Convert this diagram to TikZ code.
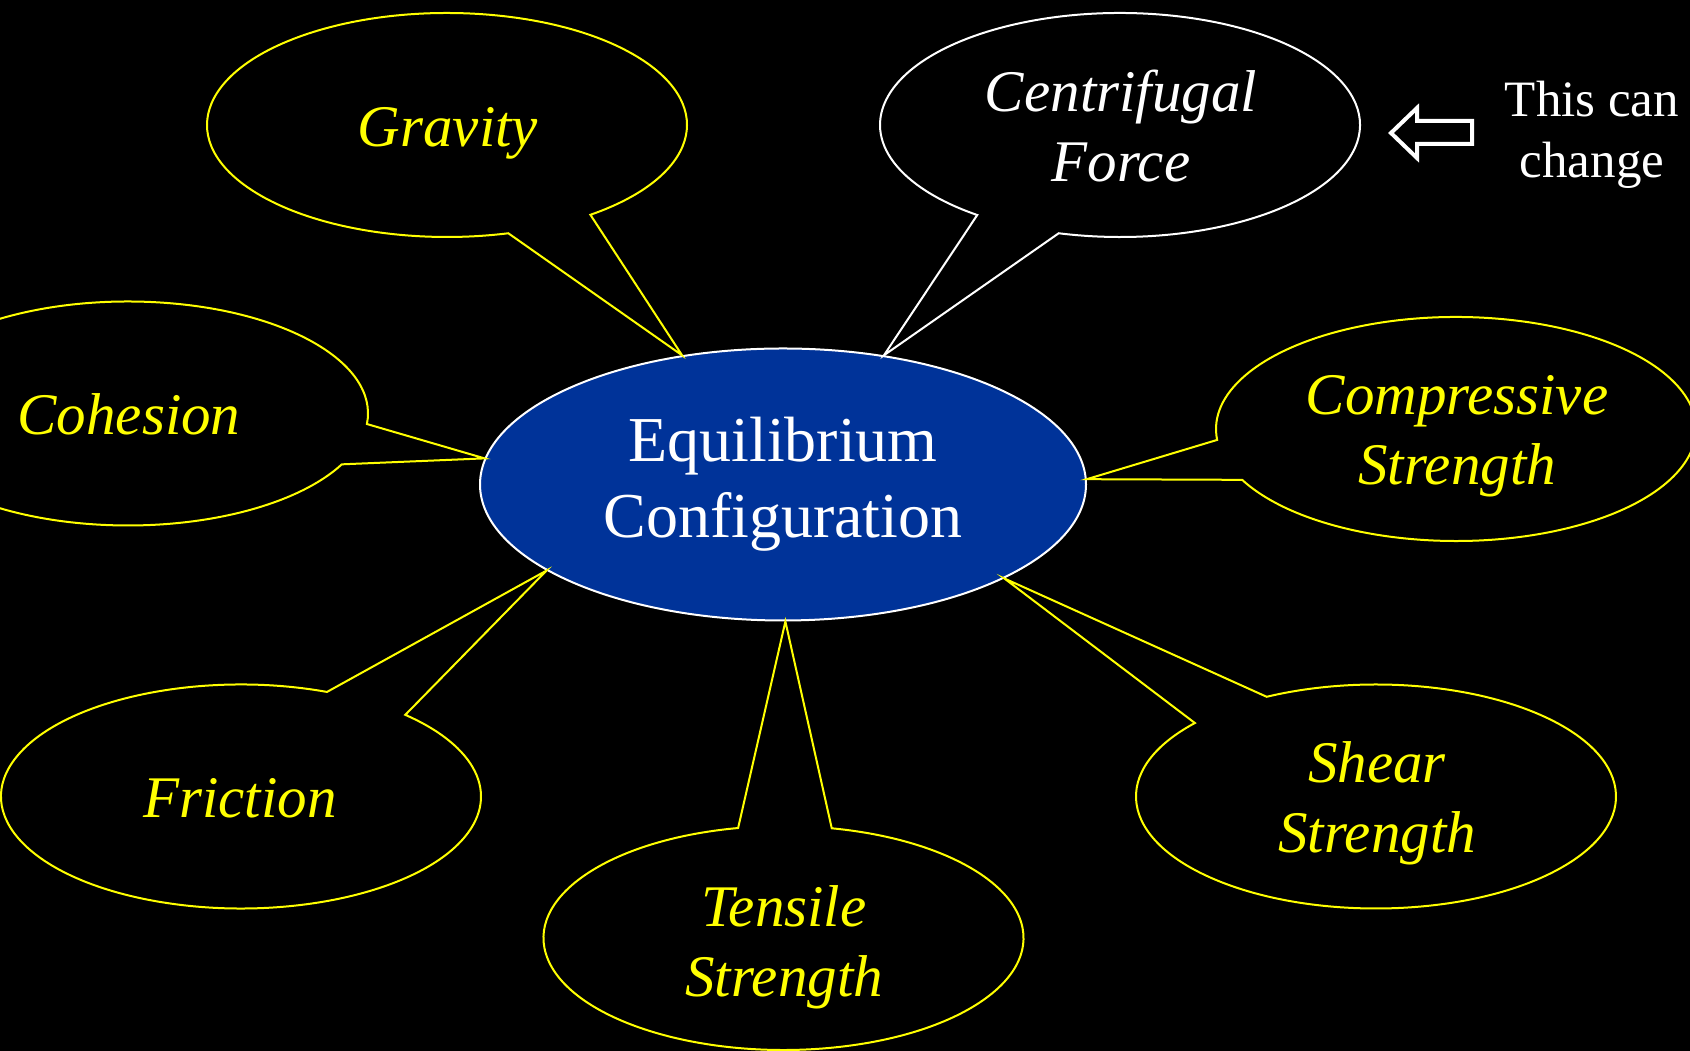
\documentclass[tikz,border=0pt]{standalone}
\usepackage{fontspec}
\setmainfont{Liberation Serif}
\usetikzlibrary{shapes.geometric}
\definecolor{eqblue}{HTML}{003399}
\definecolor{bubbleyellow}{HTML}{FFFF00}

% speech bubble: style, centre x, centre y, arc start, arc end, tail tip
\newcommand\speechbubble[6]{%
  \draw[#1] ([shift={(#4:240 and 112)}]#2,#3)
    arc[start angle=#4, end angle=#5, x radius=240, y radius=112]
    -- #6 -- cycle;}

\begin{document}
\begin{tikzpicture}[x=1pt,y=1pt,
  bubble/.style={draw=bubbleyellow, line width=2pt, line join=miter},
  whitebubble/.style={bubble, draw=white},
  label/.style={text=bubbleyellow, font=\itshape\fontsize{59}{70}\selectfont,
    align=center, anchor=base, inner sep=0pt},
  whitelabel/.style={label, text=white},
  note/.style={text=white, font=\fontsize{51}{61}\selectfont,
    align=center, anchor=base, inner sep=0pt},
  eqnode/.style={ellipse, draw=white, line width=2pt, fill=eqblue, text=white,
    minimum width=606pt, minimum height=272pt, inner sep=0pt, align=center,
    font=\fontsize{64}{76}\selectfont}]

\fill[black] (0,0) rectangle (1690,1051);
\useasboundingbox (0,0) rectangle (1690,1051);

% central ellipse
\node[eqnode] (eq) at (783,566.5) {Equilibrium\\Configuration};

% bubbles, each with its tail ending on the central ellipse
\speechbubble{bubble}{447}{926}{-53.3}{284.8}{(eq.128.3)}
\speechbubble{whitebubble}{1120}{926}{255.2}{593.5}{(eq.52.05)}
\speechbubble{bubble}{128}{637.5}{-5.4}{333}{(eq.175.7)}
\speechbubble{bubble}{1456}{622}{207}{545.6}{(eq.1.6)}
\speechbubble{bubble}{241}{254.5}{69}{406.8}{(eq.200.05)}
\speechbubble{bubble}{783.5}{113}{100.9}{438.4}{(eq.271.25)}
\speechbubble{bubble}{1376}{254.5}{139}{477.1}{(eq.337.9)}

% bubble texts (base anchor sits on the last line)
\node[label] (gravity) at (448,904) {Gravity};
\node[whitelabel] (centrifugal) at (1121,869) {Centrifugal\\Force};
\node[label] (cohesion) at (129,616) {Cohesion};
\node[label] (compressive) at (1457,566) {Compressive\\Strength};
\node[label] (friction) at (240,233) {Friction};
\node[label] (tensile) at (784,54) {Tensile\\Strength};
\node[label] (shear) at (1377,198) {Shear\\Strength};

% hollow block arrow and remark
\draw[white, line width=4pt, fill=black, line join=miter]
  (1391,918) -- (1417,943) -- (1417,930) -- (1472,930)
  -- (1472,907) -- (1417,907) -- (1417,893) -- cycle;
\node[note] (remark) at (1592,873) {This can\\change};
\end{tikzpicture}
\end{document}
